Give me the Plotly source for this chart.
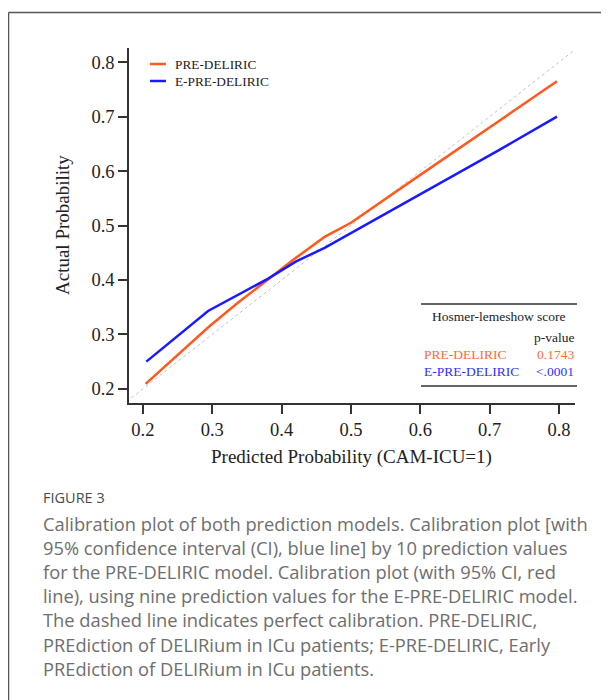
import plotly.graph_objects as go

# ---- data ----
pre_x = [0.204, 0.250, 0.296, 0.337, 0.380, 0.421, 0.462, 0.500, 0.600, 0.700, 0.797]
pre_y = [0.209, 0.262, 0.315, 0.358, 0.400, 0.441, 0.479, 0.505, 0.593, 0.680, 0.765]
epre_x = [0.205, 0.250, 0.294, 0.380, 0.421, 0.462, 0.550, 0.650, 0.714, 0.797]
epre_y = [0.250, 0.297, 0.343, 0.402, 0.434, 0.459, 0.522, 0.594, 0.639, 0.700]
diag = [0.17, 0.82]
tick_vals = [0.2, 0.3, 0.4, 0.5, 0.6, 0.7, 0.8]
tick_text = ["0.2", "0.3", "0.4", "0.5", "0.6", "0.7", "0.8"]
series_names = ["PRE-DELIRIC", "E-PRE-DELIRIC"]
p_values = ["0.1743", "<.0001"]
caption_lines = [
    "Calibration plot of both prediction models. Calibration plot [with",
    "95% confidence interval (CI), blue line] by 10 prediction values",
    "for the PRE-DELIRIC model. Calibration plot (with 95% CI, red",
    "line), using nine prediction values for the E-PRE-DELIRIC model.",
    "The dashed line indicates perfect calibration. PRE-DELIRIC,",
    "PREdiction of DELIRium in ICu patients; E-PRE-DELIRIC, Early",
    "PREdiction of DELIRium in ICu patients.",
]

ORANGE = "#FF5A1E"
BLUE = "#1a1aFF"
SERIF = "Liberation Serif, Times New Roman, serif"
SANS = "Open Sans, sans-serif"

OFF = 8  # page body margin
W, H = 609 - OFF, 700 - OFF
# plot area in screen pixels
SL, SR, ST, SB = 129, 575, 48, 403
L, R, T, B = SL - OFF, SR - OFF, ST - OFF, SB - OFF


def px(x):
    return (x - SL) / (SR - SL)


def py(y):
    return (SB - y) / (SB - ST)


fig = go.Figure()
fig.add_trace(go.Scatter(x=diag, y=diag, mode="lines",
                         line=dict(color="#c0c0c0", width=1, dash="3px,3px"),
                         showlegend=False, hoverinfo="skip"))
fig.add_trace(go.Scatter(x=pre_x, y=pre_y, mode="lines", name=series_names[0],
                         line=dict(color=ORANGE, width=2.5), showlegend=False))
fig.add_trace(go.Scatter(x=epre_x, y=epre_y, mode="lines", name=series_names[1],
                         line=dict(color=BLUE, width=2.5), showlegend=False))

shapes = []
annotations = []

# figure frame (left and top edges)
shapes.append(dict(type="line", xref="paper", yref="paper", x0=px(8.5), x1=px(640),
                   y0=py(12.5), y1=py(12.5), line=dict(color="#555555", width=1.5)))
shapes.append(dict(type="line", xref="paper", yref="paper", x0=px(8.5), x1=px(8.5),
                   y0=py(12.5), y1=py(740), line=dict(color="#555555", width=1.5)))

# manual legend
colors = [ORANGE, BLUE]
leg_y = [64, 81]
for name, c, yy in zip(series_names, colors, leg_y):
    shapes.append(dict(type="line", xref="paper", yref="paper", x0=px(150), x1=px(166),
                       y0=py(yy), y1=py(yy), line=dict(color=c, width=2.5)))
    annotations.append(dict(x=px(173), y=py(yy), xref="paper", yref="paper", text=name,
                            showarrow=False, xanchor="left", yanchor="middle",
                            font=dict(family=SERIF, size=13.3, color="#222222")))

# Hosmer-Lemeshow table
for yy in [304, 386]:
    shapes.append(dict(type="line", xref="paper", yref="paper", x0=px(421), x1=px(577),
                       y0=py(yy), y1=py(yy), line=dict(color="#333333", width=1.5)))
annotations.append(dict(x=px(499), y=py(316), xref="paper", yref="paper",
                        text="Hosmer-lemeshow score", showarrow=False,
                        xanchor="center", yanchor="middle",
                        font=dict(family=SERIF, size=13.5, color="#222222")))
annotations.append(dict(x=px(576), y=py(337), xref="paper", yref="paper",
                        text="p-value", showarrow=False, xanchor="right", yanchor="middle",
                        font=dict(family=SERIF, size=13.5, color="#222222")))
for name, pv, c, yy in zip(series_names, p_values, ["#FF6A35", "#3030FF"], [354, 371]):
    annotations.append(dict(x=px(422), y=py(yy), xref="paper", yref="paper", text=name,
                            showarrow=False, xanchor="left", yanchor="middle",
                            font=dict(family=SERIF, size=13.5, color=c)))
    annotations.append(dict(x=px(576), y=py(yy), xref="paper", yref="paper",
                            text=pv.replace("<", "&lt;"),
                            showarrow=False, xanchor="right", yanchor="middle",
                            font=dict(family=SERIF, size=13.5, color=c)))

# axis titles
annotations.append(dict(x=px(351), y=py(457), xref="paper", yref="paper",
                        text="Predicted Probability (CAM-ICU=1)", showarrow=False,
                        xanchor="center", yanchor="middle",
                        font=dict(family=SERIF, size=19, color="#222222")))
annotations.append(dict(x=px(62), y=py(225), xref="paper", yref="paper",
                        text="Actual Probability", showarrow=False, textangle=-90,
                        xanchor="center", yanchor="middle",
                        font=dict(family=SERIF, size=19, color="#222222")))

# caption
annotations.append(dict(x=px(41), y=py(497), xref="paper", yref="paper",
                        text="FIGURE 3", showarrow=False, xanchor="left", yanchor="middle",
                        font=dict(family=SANS, size=14.5, color="#4a4a4a")))
for i, line in enumerate(caption_lines):
    annotations.append(dict(x=px(41), y=py(523 + i * 24.2), xref="paper", yref="paper",
                            text=line, showarrow=False, xanchor="left", yanchor="middle",
                            font=dict(family=SANS, size=18.3, color="#6e6e6e")))

axis_common = dict(
    showgrid=False, zeroline=False, showline=True, linecolor="#333333", linewidth=1.5,
    ticks="outside", ticklen=9, tickwidth=1.5, tickcolor="#333333",
    tickvals=tick_vals, ticktext=tick_text,
    tickfont=dict(family=SERIF, size=18.5, color="#222222"),
    mirror=False,
)

fig.update_layout(
    width=W, height=H,
    margin=dict(l=L, r=W - R, t=T, b=H - B),
    paper_bgcolor="white", plot_bgcolor="white",
    xaxis=dict(range=[0.18, 0.823], **axis_common),
    yaxis=dict(range=[0.174, 0.826], **axis_common),
    shapes=shapes, annotations=annotations,
    showlegend=False,
)

fig.write_html("out.html")
